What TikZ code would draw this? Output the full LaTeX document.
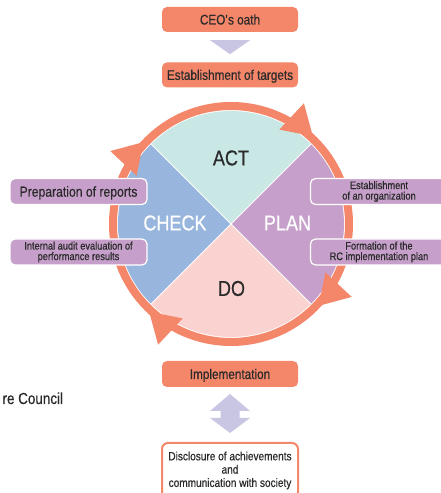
\documentclass[tikz,border=0pt]{standalone}
\usepackage{fontspec}
\setmainfont{Liberation Sans}[FakeStretch=0.84,FakeBold=0.5]
\usetikzlibrary{positioning,calc}

\definecolor{rcorange}{HTML}{F4866A}
\definecolor{rclav}{HTML}{C9C6E3}
\definecolor{rcact}{HTML}{C9E8E5}
\definecolor{rcplan}{HTML}{C6A0CA}
\definecolor{rcdo}{HTML}{FAD3D0}
\definecolor{rccheck}{HTML}{97B5DD}
\definecolor{rctext}{HTML}{2A2A2A}

\tikzset{
	stagebox/.style={rounded corners=5pt,fill=rcorange,minimum width=136pt,minimum height=25pt,inner sep=0pt,text=rctext,font=\fontsize{14}{16}\selectfont,text height=10pt,text depth=0pt},
	sidebox/.style={rounded corners=5pt,fill=rcplan,draw=white,line width=1.2pt,minimum width=137pt,minimum height=26pt,inner sep=0pt,text=rctext},
	notebig/.style={sidebox,font=\fontsize{14.5}{16}\selectfont,text height=10.4pt,text depth=0pt},
	notesmall/.style={sidebox,font=\fontsize{11}{10.5}\selectfont,align=center},
	discbox/.style={rounded corners=6pt,fill=white,draw=rcorange,line width=2pt,minimum width=136pt,minimum height=55pt,inner sep=0pt,text=rctext,font=\fontsize{12}{13.3}\selectfont,align=center},
	quad/.style={font=\fontsize{21.5}{24}\selectfont}
}

\begin{document}
\begin{tikzpicture}[x=1pt,y=1pt]
	\useasboundingbox (0,0) rectangle (440,493);
	\coordinate (c) at (231,269);
	% quarters of the cycle
	\fill[rcact]   (c) -- ++(45:113) arc[start angle=45,end angle=135,radius=113] -- cycle;
	\fill[rccheck] (c) -- ++(135:113) arc[start angle=135,end angle=225,radius=113] -- cycle;
	\fill[rcdo]    (c) -- ++(225:113) arc[start angle=225,end angle=315,radius=113] -- cycle;
	\fill[rcplan]  (c) -- ++(-45:113) arc[start angle=-45,end angle=45,radius=113] -- cycle;
	\draw[white,line width=1pt] (c) -- ++(45:113) (c) -- ++(135:113) (c) -- ++(225:113) (c) -- ++(315:113);
	% ring and its heads
	\draw[rcorange,line width=8pt] (c) circle[radius=118];
	\foreach \a in {47,-43,-133,137}
		\fill[rcorange,shift={(c)},rotate=\a] (120,0) -- (102,29) -- (138,29) -- cycle;
	\node[quad,text=rctext] (act) at (231,335) {ACT};
	\node[quad,text=white] (check) at (175,270) {CHECK};
	\node[quad,text=white] (plan) at (287.5,270) {PLAN};
	\node[quad,text=rctext] (do) at (231.5,204.5) {DO};
	% side notes
	\node[notebig] (reports) at (78.5,301.5) {Preparation of reports};
	\node[notesmall] (audit) at (78.5,241) {Internal audit evaluation of\\performance results};
	\node[notesmall] (organization) at (379,301.5) {Establishment\\of an organization};
	\node[notesmall] (rcplan) at (379,241) {Formation of the\\RC implementation plan};
	% top and bottom
	\node[stagebox] (ceo) at (230,473.5) {CEO\textquotesingle s oath};
	\node[stagebox,below=30pt of ceo] (targets) {Establishment of targets};
	\fill[rclav] ($(ceo.south)+(-20,-8)$) -- ($(ceo.south)+(20,-8)$) -- ($(targets.north)+(0,8)$) -- cycle;
	\node[stagebox,minimum height=26pt] (impl) at (230,119) {Implementation};
	\node[discbox] (disclosure) at (230,22.5) {Disclosure of achievements\\and\\communication with society};
	\fill[rclav] (230,99) -- (250,82) -- (239.5,82) -- (239.5,75) -- (250,75) -- (230,60)
		-- (210,75) -- (220.5,75) -- (220.5,82) -- (210,82) -- cycle;
	\node[anchor=base west,text=rctext,font=\fontsize{16}{18}\selectfont] (council) at (-1,89) {re Council};
\end{tikzpicture}
\end{document}
